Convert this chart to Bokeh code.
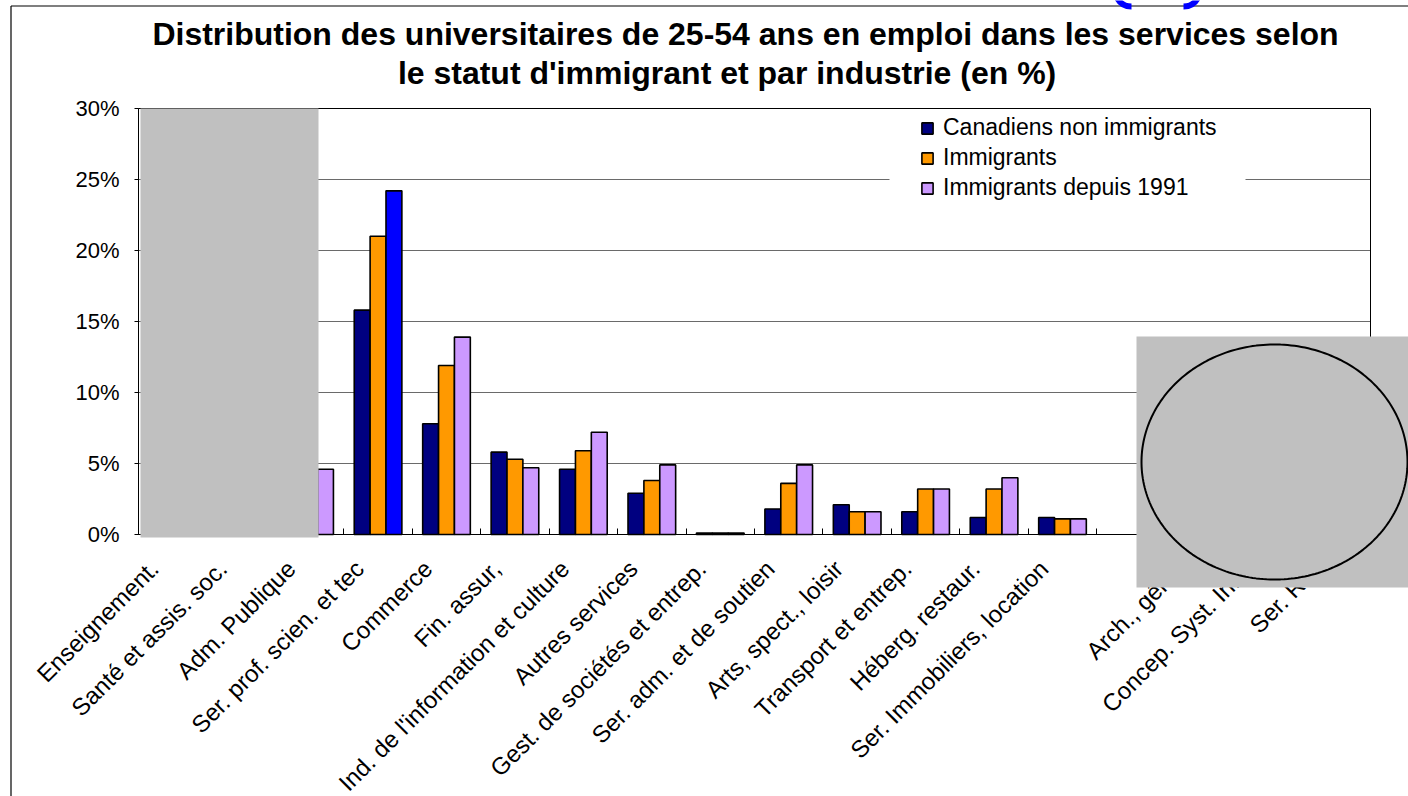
import math
import numpy as np
from bokeh.plotting import figure
from bokeh.models import (ColumnDataSource, FixedTicker, Legend, LegendItem,
                          BoxAnnotation, PolyAnnotation, Label, Range1d)
from bokeh.transform import dodge
from bokeh.embed import file_html
from bokeh.resources import INLINE

NaN = float("nan")

categories = [
    "Enseignement.", "Santé et assis. soc.", "Adm. Publique",
    "Ser. prof. scien. et tec", "Commerce", "Fin. assur,",
    "Ind. de l'information et culture", "Autres services",
    "Gest. de sociétés et entrep.", "Ser. adm. et de soutien",
    "Arts, spect., loisir", "Transport et entrep.", "Héberg. restaur.",
    "Ser. Immobiliers, location", "", "Arch., génie",
    "Concep. Syst. Info.", "Ser. R.D",
]
# values hidden behind the grey boxes in the source picture are NaN
canadiens_non_immigrants = [NaN, NaN, NaN, 15.8, 7.8, 5.8, 4.6, 2.9, 0.1, 1.8, 2.1, 1.6, 1.2, 1.2, NaN, NaN, NaN, NaN]
immigrants = [NaN, NaN, NaN, 21.0, 11.9, 5.3, 5.9, 3.8, 0.1, 3.6, 1.6, 3.2, 3.2, 1.1, NaN, NaN, NaN, NaN]
immigrants_depuis_1991 = [NaN, NaN, 4.6, 24.2, 13.9, 4.7, 7.2, 4.9, 0.1, 4.9, 1.6, 3.2, 4.0, 1.1, NaN, NaN, NaN, NaN]
highlighted = "Ser. prof. scien. et tec"
series_names = ["Canadiens non immigrants", "Immigrants", "Immigrants depuis 1991"]
y_ticks = [0, 5, 10, 15, 20, 25, 30]
y_tick_labels = ["0%", "5%", "10%", "15%", "20%", "25%", "30%"]
title_lines = ["Distribution des universitaires de 25-54 ans en emploi dans les services selon",
               "le statut d'immigrant et par industrie  (en %)"]

NAVY, ORANGE, LAVENDER, BLUE = "#000080", "#FF9900", "#CC99FF", "#0000FF"
FONT = "Liberation Sans"

n = len(categories)
centers = [i + 0.5 for i in range(n)]
colors3 = [BLUE if c == highlighted else LAVENDER for c in categories]
src = ColumnDataSource(dict(xc=centers, cat=categories, s1=canadiens_non_immigrants,
                            s2=immigrants, s3=immigrants_depuis_1991, c3=colors3))

W, H = 1408, 796
# plot area of the picture (pixels) -> used to place the value scale on the canvas
FX0, FX1, FY0, FY1 = 138, 1370, 534, 108
def ux(X):
    return (X - FX0) / ((FX1 - FX0) / n)
def uy(Y):
    return y_ticks[0] + (FY0 - Y) / ((FY0 - FY1) / (y_ticks[-1] - y_ticks[0]))

p = figure(width=W, height=H, output_backend="svg", toolbar_location=None,
           x_range=Range1d(ux(0), ux(W)), y_range=Range1d(uy(H), uy(0)),
           min_border=0, min_border_left=0, min_border_right=0,
           min_border_top=0, min_border_bottom=0)
p.outline_line_color = None
p.xgrid.visible = False
p.ygrid.visible = False

# gridlines and plot-area border
p.segment(x0=[0] * (len(y_ticks) - 2), x1=[n] * (len(y_ticks) - 2), y0=y_ticks[1:-1],
          y1=y_ticks[1:-1], line_color="#6a6a6a", line_width=1)
p.quad(left=[0], right=[n], bottom=[y_ticks[0]], top=[y_ticks[-1]], fill_color=None,
       line_color="black", line_width=1)

bw = 0.232
r1 = p.vbar(x=dodge("xc", -bw), top="s1", width=bw, source=src,
            fill_color=NAVY, line_color="black", line_width=1.6)
r2 = p.vbar(x=dodge("xc", 0), top="s2", width=bw, source=src,
            fill_color=ORANGE, line_color="black", line_width=1.6)
r3 = p.vbar(x=dodge("xc", bw), top="s3", width=bw, source=src,
            fill_color="c3", line_color="black", line_width=1.6)

# axes, drawn at the value origin
label_shift = 0.27   # labels sit a little left of the group centre, as in the picture
label_pos = [c - label_shift for c in centers]
xa = p.xaxis[0]
xa.fixed_location = y_ticks[0]
xa.bounds = (0, n)
xa.ticker = FixedTicker(ticks=label_pos, minor_ticks=list(range(n + 1)))
xa.major_label_overrides = {c: lab for c, lab in zip(label_pos, categories)}
xa.major_label_orientation = math.pi / 4
xa.major_label_text_font = FONT
xa.major_label_text_font_size = "24px"
xa.major_label_text_color = "black"
xa.major_tick_line_color = None
xa.minor_tick_in = 6
xa.minor_tick_out = 0
xa.minor_tick_line_color = "black"
xa.axis_line_color = "black"
xa.major_label_standoff = 24

ya = p.yaxis[0]
ya.fixed_location = 0
ya.bounds = (y_ticks[0], y_ticks[-1])
ya.ticker = FixedTicker(ticks=y_ticks)
ya.major_label_overrides = {t: l for t, l in zip(y_ticks, y_tick_labels)}
ya.major_label_text_font = FONT
ya.major_label_text_font_size = "22px"
ya.major_label_text_color = "black"
ya.major_tick_in = 0
ya.major_tick_out = 4
ya.minor_tick_line_color = None
ya.axis_line_color = "black"
ya.major_label_standoff = 15

# white gap behind legend
p.add_layout(BoxAnnotation(left=ux(889), right=ux(1245), top=uy(112), bottom=uy(205),
                           fill_color="white", fill_alpha=1, line_color=None))

legend = Legend(items=[LegendItem(label=series_names[0], renderers=[r1]),
                       LegendItem(label=series_names[1], renderers=[r2]),
                       LegendItem(label=series_names[2], renderers=[r3], index=2)],
                location=(920, H - 201), background_fill_color="white", background_fill_alpha=1,
                border_line_color=None, padding=10, margin=0, spacing=3,
                glyph_width=14, glyph_height=14, label_standoff=9, label_height=25,
                label_text_font=FONT, label_text_font_size="23px", label_text_color="black")
p.add_layout(legend, "center")

# title
for i, t in enumerate(title_lines):
    p.add_layout(Label(x=ux([745, 731][i]), y=uy([33, 72][i]), text=t, text_align="center",
                       text_baseline="middle", text_font=FONT, text_font_style="bold",
                       text_font_size="32px", text_color="black"))

# grey masking shapes of the source picture
p.add_layout(BoxAnnotation(left=ux(140), right=ux(318), top=uy(108), bottom=uy(537),
                           fill_color="#C0C0C0", fill_alpha=1, line_color=None))
p.add_layout(BoxAnnotation(left=ux(1136), right=ux(1420), top=uy(336), bottom=uy(587),
                           fill_color="#C0C0C0", fill_alpha=1, line_color=None))
th = np.linspace(0, 2 * np.pi, 240)
ecx, ecy, erx, ery = 1274, 461.5, 133, 117.5
p.add_layout(PolyAnnotation(xs=[ux(ecx + erx * math.cos(a)) for a in th],
                            ys=[uy(ecy + ery * math.sin(a)) for a in th],
                            fill_color=None, fill_alpha=0, line_color="black",
                            line_alpha=1, line_width=2))

# outer frame of the picture (left and top edges)
p.segment(x0=[ux(10.5), ux(10.5)], y0=[uy(800), uy(5.5)], x1=[ux(10.5), ux(1410)],
          y1=[uy(5.5), uy(5.5)], line_color="black", line_width=1.2)
# cut-off blue mark at the top edge
p.bezier(x0=[ux(1116), ux(1198)], y0=[uy(-4), uy(-4)], x1=[ux(1131), ux(1183)],
         y1=[uy(6), uy(6)], cx0=[ux(1119), ux(1195)], cy0=[uy(3), uy(3)],
         cx1=[ux(1124), ux(1190)], cy1=[uy(6), uy(6)], line_color=BLUE, line_width=6)

open("out.html", "w").write(file_html(p, INLINE))
